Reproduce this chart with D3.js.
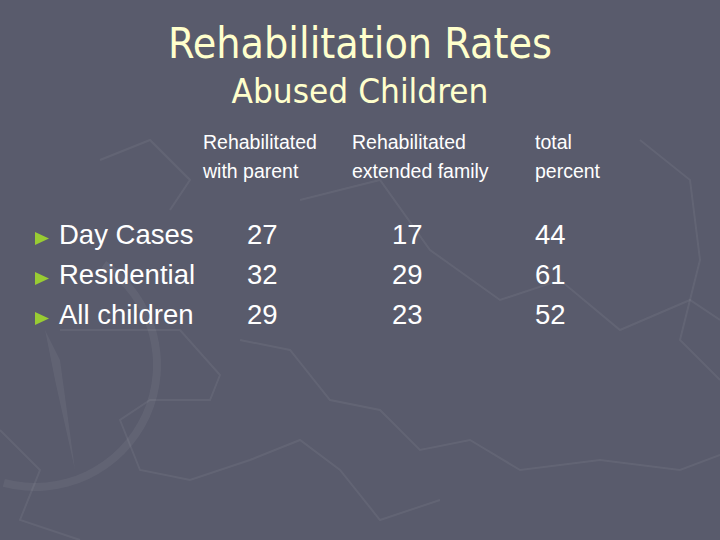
<!DOCTYPE html>
<html><head><meta charset="utf-8">
<script src="https://cdn.jsdelivr.net/npm/d3@7"></script>
<style>html,body{margin:0;padding:0;background:#595b6c;}svg{display:block;}</style>
</head><body>
<svg id="c" width="720" height="540"></svg>
<script>
const title = "Rehabilitation Rates";
const subtitle = "Abused Children";
const categories = ["Day Cases", "Residential", "All children"];
const columns = ["withParent", "extendedFamily", "totalPercent"];
const headerLine1 = ["Rehabilitated", "Rehabilitated", "total"];
const headerLine2 = ["with parent", "extended family", "percent"];
const withParent = [27, 32, 29];
const extendedFamily = [17, 29, 23];
const totalPercent = [44, 61, 52];
const seriesValues = [withParent, extendedFamily, totalPercent];

const W = 720, H = 540;
const svg = d3.select("#c");
svg.append("rect").attr("width", W).attr("height", H).attr("fill", "#595b6c");

// faint background decoration (compass + map outlines)
const deco = svg.append("g").attr("fill", "none").attr("stroke", "#ffffff").attr("stroke-opacity", 0.06).attr("stroke-width", 2);
const arc = d3.arc().innerRadius(118).outerRadius(126).startAngle(0.6).endAngle(3.4);
deco.append("path").attr("d", arc()).attr("transform", "translate(35,365)").attr("fill", "#ffffff").attr("fill-opacity", 0.05).attr("stroke", "none");
deco.append("path").attr("d", "M45,330 L60,360 L75,470 L55,380 Z").attr("fill", "#ffffff").attr("fill-opacity", 0.05).attr("stroke", "none");
const line = d3.line();
deco.append("path").attr("d", line([[60,330],[180,330],[220,375],[210,400],[150,400],[120,420],[140,470],[190,480],[250,460],[300,440],[340,470],[380,520],[440,500]]));
deco.append("path").attr("d", line([[240,340],[290,350],[330,400],[380,410],[420,450],[470,440],[520,470],[600,460],[680,470],[720,455]]));
deco.append("path").attr("d", line([[300,200],[380,180],[430,250],[500,300],[560,280],[620,330],[690,300],[720,320]]));
deco.append("path").attr("d", line([[0,430],[40,470],[20,520],[80,540]]));
deco.append("path").attr("d", line([[640,140],[690,180],[700,260],[680,340],[720,380]]));
deco.append("path").attr("d", line([[100,160],[150,140],[190,180],[170,210]]));

// title
svg.append("text").text(title)
  .attr("x", W / 2).attr("y", 58).attr("text-anchor", "middle")
  .attr("font-family", "'DejaVu Sans Condensed','DejaVu Sans',sans-serif").attr("font-stretch", "condensed")
  .attr("font-size", 43).attr("fill", "#ffffcc")
  .attr("textLength", 384).attr("lengthAdjust", "spacingAndGlyphs");
svg.append("text").text(subtitle)
  .attr("x", W / 2).attr("y", 103).attr("text-anchor", "middle")
  .attr("font-family", "'DejaVu Sans Condensed','DejaVu Sans',sans-serif").attr("font-stretch", "condensed")
  .attr("font-size", 33).attr("fill", "#ffffcc")
  .attr("textLength", 257).attr("lengthAdjust", "spacingAndGlyphs");

// scales
const rowY = d3.scalePoint().domain(categories).range([244, 324]);
const headX = d3.scaleOrdinal().domain(columns).range([203, 352, 535]);
const valX = d3.scaleOrdinal().domain(columns).range([247, 392, 535]);
const font = "'Liberation Sans', Arial, sans-serif";

// headers
const hdr = svg.append("g").attr("font-family", font).attr("font-size", 19.5).attr("fill", "#ffffff");
columns.forEach((c, i) => {
  hdr.append("text").attr("x", headX(c)).attr("y", 149).text(headerLine1[i]);
  hdr.append("text").attr("x", headX(c)).attr("y", 178).text(headerLine2[i]);
});

// rows
const rows = svg.append("g").selectAll("g").data(categories).join("g")
  .attr("transform", d => `translate(0,${rowY(d)})`);
rows.append("path").attr("d", "M35,-12 L49,-5.5 L35,1 Z").attr("fill", "#99cc33");
rows.append("text").attr("x", 59).attr("y", 0).text(d => d)
  .attr("font-family", font).attr("font-size", 27.5).attr("fill", "#ffffff");
columns.forEach((c, ci) => {
  rows.append("text").attr("x", valX(c)).attr("y", 0)
    .text((d, ri) => seriesValues[ci][ri])
    .attr("font-family", font).attr("font-size", 27.5).attr("fill", "#ffffff");
});
</script>
</body></html>
